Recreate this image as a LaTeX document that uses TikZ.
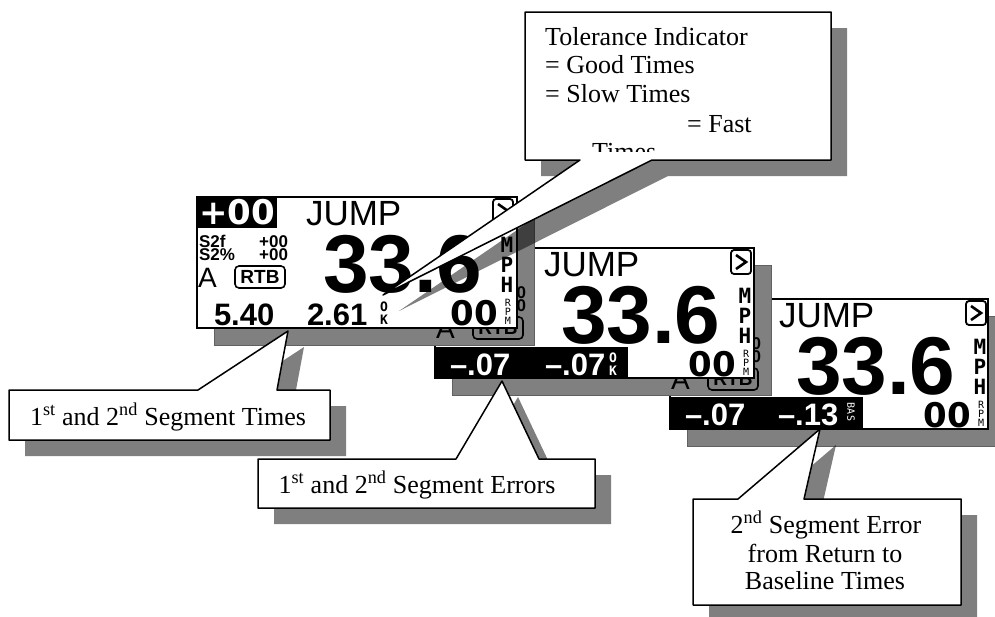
\documentclass[tikz,border=0pt]{standalone}
\usepackage{fontspec}
\setmainfont{Liberation Serif}
\newfontfamily\lcdsans{Liberation Sans}
\newfontfamily\lcdwide{DejaVu Sans}
\newfontfamily\lcdmono{DejaVu Sans Mono}
\usetikzlibrary{calc}

% one LCD face in the local frame of its scope
\newcommand\lcdface[1]{%
  \fill (0,0) rectangle (80,31);
  \node[lcd, lcdfat, text=white, anchor=base] (#1lead) at (40,27) {+00};
  \node[lcd, font=\lcdsans\fontsize{35}{35}\selectfont, anchor=base west] (#1mode) at (109,28) {JUMP};
  \draw[line width=1.8pt, rounded corners=3pt] (296,2) rectangle (316,26);
  \draw[line width=2.6pt] (301,7) -- (311,14) -- (301,21);
  \node[lcd, lcdsmall, anchor=base west] (#1sfa) at (2,50) {S2f};
  \node[lcd, lcdsmall, anchor=base east] (#1sfb) at (91,50) {+00};
  \node[lcd, lcdsmall, anchor=base west] (#1spa) at (2,63) {S2\%};
  \node[lcd, lcdsmall, anchor=base east] (#1spb) at (91,63) {+00};
  \node[lcd, font=\lcdsans\fontsize{28}{28}\selectfont, anchor=base west] (#1lane) at (1,90) {A};
  \draw[line width=1.6pt, rounded corners=4pt] (38,69) rectangle (88,91);
  \node[lcd, font=\lcdsans\bfseries\fontsize{19}{19}\selectfont] (#1rtb) at (63,80) {RTB};
  \node[lcd, lcdbig, anchor=base west] (#1speed) at (126,95) {33.6};
  \foreach \ltr/\ypos in {M/48,P/68,H/88}
    \node[lcd, lcdunit] (#1unit\ltr) at (310,\ypos) {\ltr};
  \node[lcd, lcdfat, anchor=base east] (#1rpm) at (301,128) {00};
  \foreach \ltr/\ypos in {R/106,P/115,M/124}
    \node[lcd, lcdtiny] (#1rpm\ltr) at (311,\ypos) {\ltr};
}

% callout box with pointer below / above, and its drop shadow
\newcommand\calloutdown[7]{%
  \fill[calshadow] (#1+16,#2+16) -- (#3+16,#2+16) -- (#3+16,#4+16) -- (#6+16,#4+16)
    -- ($(#7)+(16,16)$) -- (#5+16,#4+16) -- (#1+16,#4+16) -- cycle;
  \filldraw[callbox] (#1,#2) -- (#3,#2) -- (#3,#4) -- (#6,#4) -- (#7) -- (#5,#4) -- (#1,#4) -- cycle;
}
\newcommand\calloutup[7]{%
  \fill[calshadow] (#1+16,#2+16) -- (#5+16,#2+16) -- ($(#7)+(16,16)$) -- (#6+16,#2+16)
    -- (#3+16,#2+16) -- (#3+16,#4+16) -- (#1+16,#4+16) -- cycle;
  \filldraw[callbox] (#1,#2) -- (#5,#2) -- (#7) -- (#6,#2) -- (#3,#2) -- (#3,#4) -- (#1,#4) -- cycle;
}

\begin{document}
\begin{tikzpicture}[
  x=1pt, y=-1pt,
  scr/.style={draw=black, line width=1.1pt, fill=white},
  dropgray/.style={fill=black!50, draw=black!62, line width=0.6pt},
  calshadow/.style={fill=black, fill opacity=0.5},
  callbox/.style={draw=black, line width=1.5pt, fill=white, line join=round},
  note/.style={font=\fontsize{26}{29}\selectfont, inner sep=0pt},
  lcd/.style={inner sep=0pt, outer sep=0pt},
  lcdfat/.style={font=\lcdwide\bfseries\fontsize{34}{34}\selectfont},
  lcdsmall/.style={font=\lcdsans\bfseries\fontsize{17}{17}\selectfont},
  lcdbig/.style={font=\lcdsans\bfseries\fontsize{82}{82}\selectfont},
  lcdnum/.style={font=\lcdsans\bfseries\fontsize{31}{31}\selectfont},
  lcdunit/.style={font=\lcdmono\bfseries\fontsize{21}{21}\selectfont},
  lcdtiny/.style={font=\lcdmono\fontsize{10}{10}\selectfont},
  lcdok/.style={font=\lcdmono\bfseries\fontsize{13}{13}\selectfont}
]
  \useasboundingbox (0,0) rectangle (995,616);

  % third screen, at the back
  \filldraw[dropgray] (687,316) rectangle ++(318,130);
  \filldraw[scr] (670,299) rectangle ++(318,130);
  \filldraw[dropgray] (452,265) rectangle ++(319,130);
  \begin{scope}[shift={(670,299)}]
    \lcdface{c}
    \fill (0,98) rectangle (193,130);
    \node[lcd, lcdnum, text=white, anchor=base west] (cerrA) at (15,126) {–.07};
    \node[lcd, lcdnum, text=white, anchor=base west] (cerrB) at (108,126) {–.13};
    \node[lcd, lcdtiny, text=white, rotate=-90] (cbas) at (181,113) {BAS};
  \end{scope}

  % second screen
  \filldraw[scr] (435,248) rectangle ++(319,130);
  \filldraw[dropgray] (214,214) rectangle ++(320,131);
  \begin{scope}[shift={(435,248)}]
    \lcdface{b}
    \fill (0,99) rectangle (193,130);
    \node[lcd, lcdnum, text=white, anchor=base west] (berrA) at (15,127) {–.07};
    \node[lcd, lcdnum, text=white, anchor=base west] (berrB) at (110,127) {–.07};
    \node[lcd, lcdok, text=white] (bokO) at (178,110) {O};
    \node[lcd, lcdok, text=white] (bokK) at (178,123) {K};
  \end{scope}

  % first screen, in front
  \filldraw[scr] (197,197) rectangle ++(320,131);
  \begin{scope}[shift={(197,197)}]
    \lcdface{a}
    \node[lcd, lcdnum, anchor=base west] (asegA) at (17,128) {5.40};
    \node[lcd, lcdnum, anchor=base west] (asegB) at (110,128) {2.61};
    \node[lcd, lcdok] (aokO) at (187,110) {O};
    \node[lcd, lcdok] (aokK) at (187,123) {K};
  \end{scope}

  \coordinate (tolTip) at (383,295);
  \coordinate (timesTip) at (288,331);
  \coordinate (errTip) at (502,381);
  \coordinate (baseTip) at (820,429);

  \calloutdown{525}{12}{831}{160}{580}{652}{tolTip}
  \begin{scope}
    \clip (525,12) rectangle (831,151);
    \node[note, anchor=base west] (tolHead) at (545,45) {Tolerance Indicator};
    \node[note, anchor=base west] (tolGood) at (545,73) {= Good Times};
    \node[note, anchor=base west] (tolSlow) at (545,102) {= Slow Times};
    \node[note, anchor=base west] (tolFast) at (687,132) {= Fast};
    \node[note, anchor=base west] (tolTimes) at (592,160) {Times};
  \end{scope}

  \calloutup{9}{390}{330}{440}{198}{277}{timesTip}
  \node[note, anchor=base] (timesNote) at (168,425) {1\textsuperscript{st} and 2\textsuperscript{nd} Segment Times};

  \calloutup{258}{459}{595}{508}{456}{539}{errTip}
  \node[note, anchor=base] (errNote) at (417,493) {1\textsuperscript{st} and 2\textsuperscript{nd} Segment Errors};

  \calloutup{693}{499}{961}{605}{738}{804}{baseTip}
  \node[note, anchor=base] (baseNoteA) at (826,533) {2\textsuperscript{nd} Segment Error};
  \node[note, anchor=base] (baseNoteB) at (825,562) {from Return to};
  \node[note, anchor=base] (baseNoteC) at (825,589) {Baseline Times};
\end{tikzpicture}
\end{document}
